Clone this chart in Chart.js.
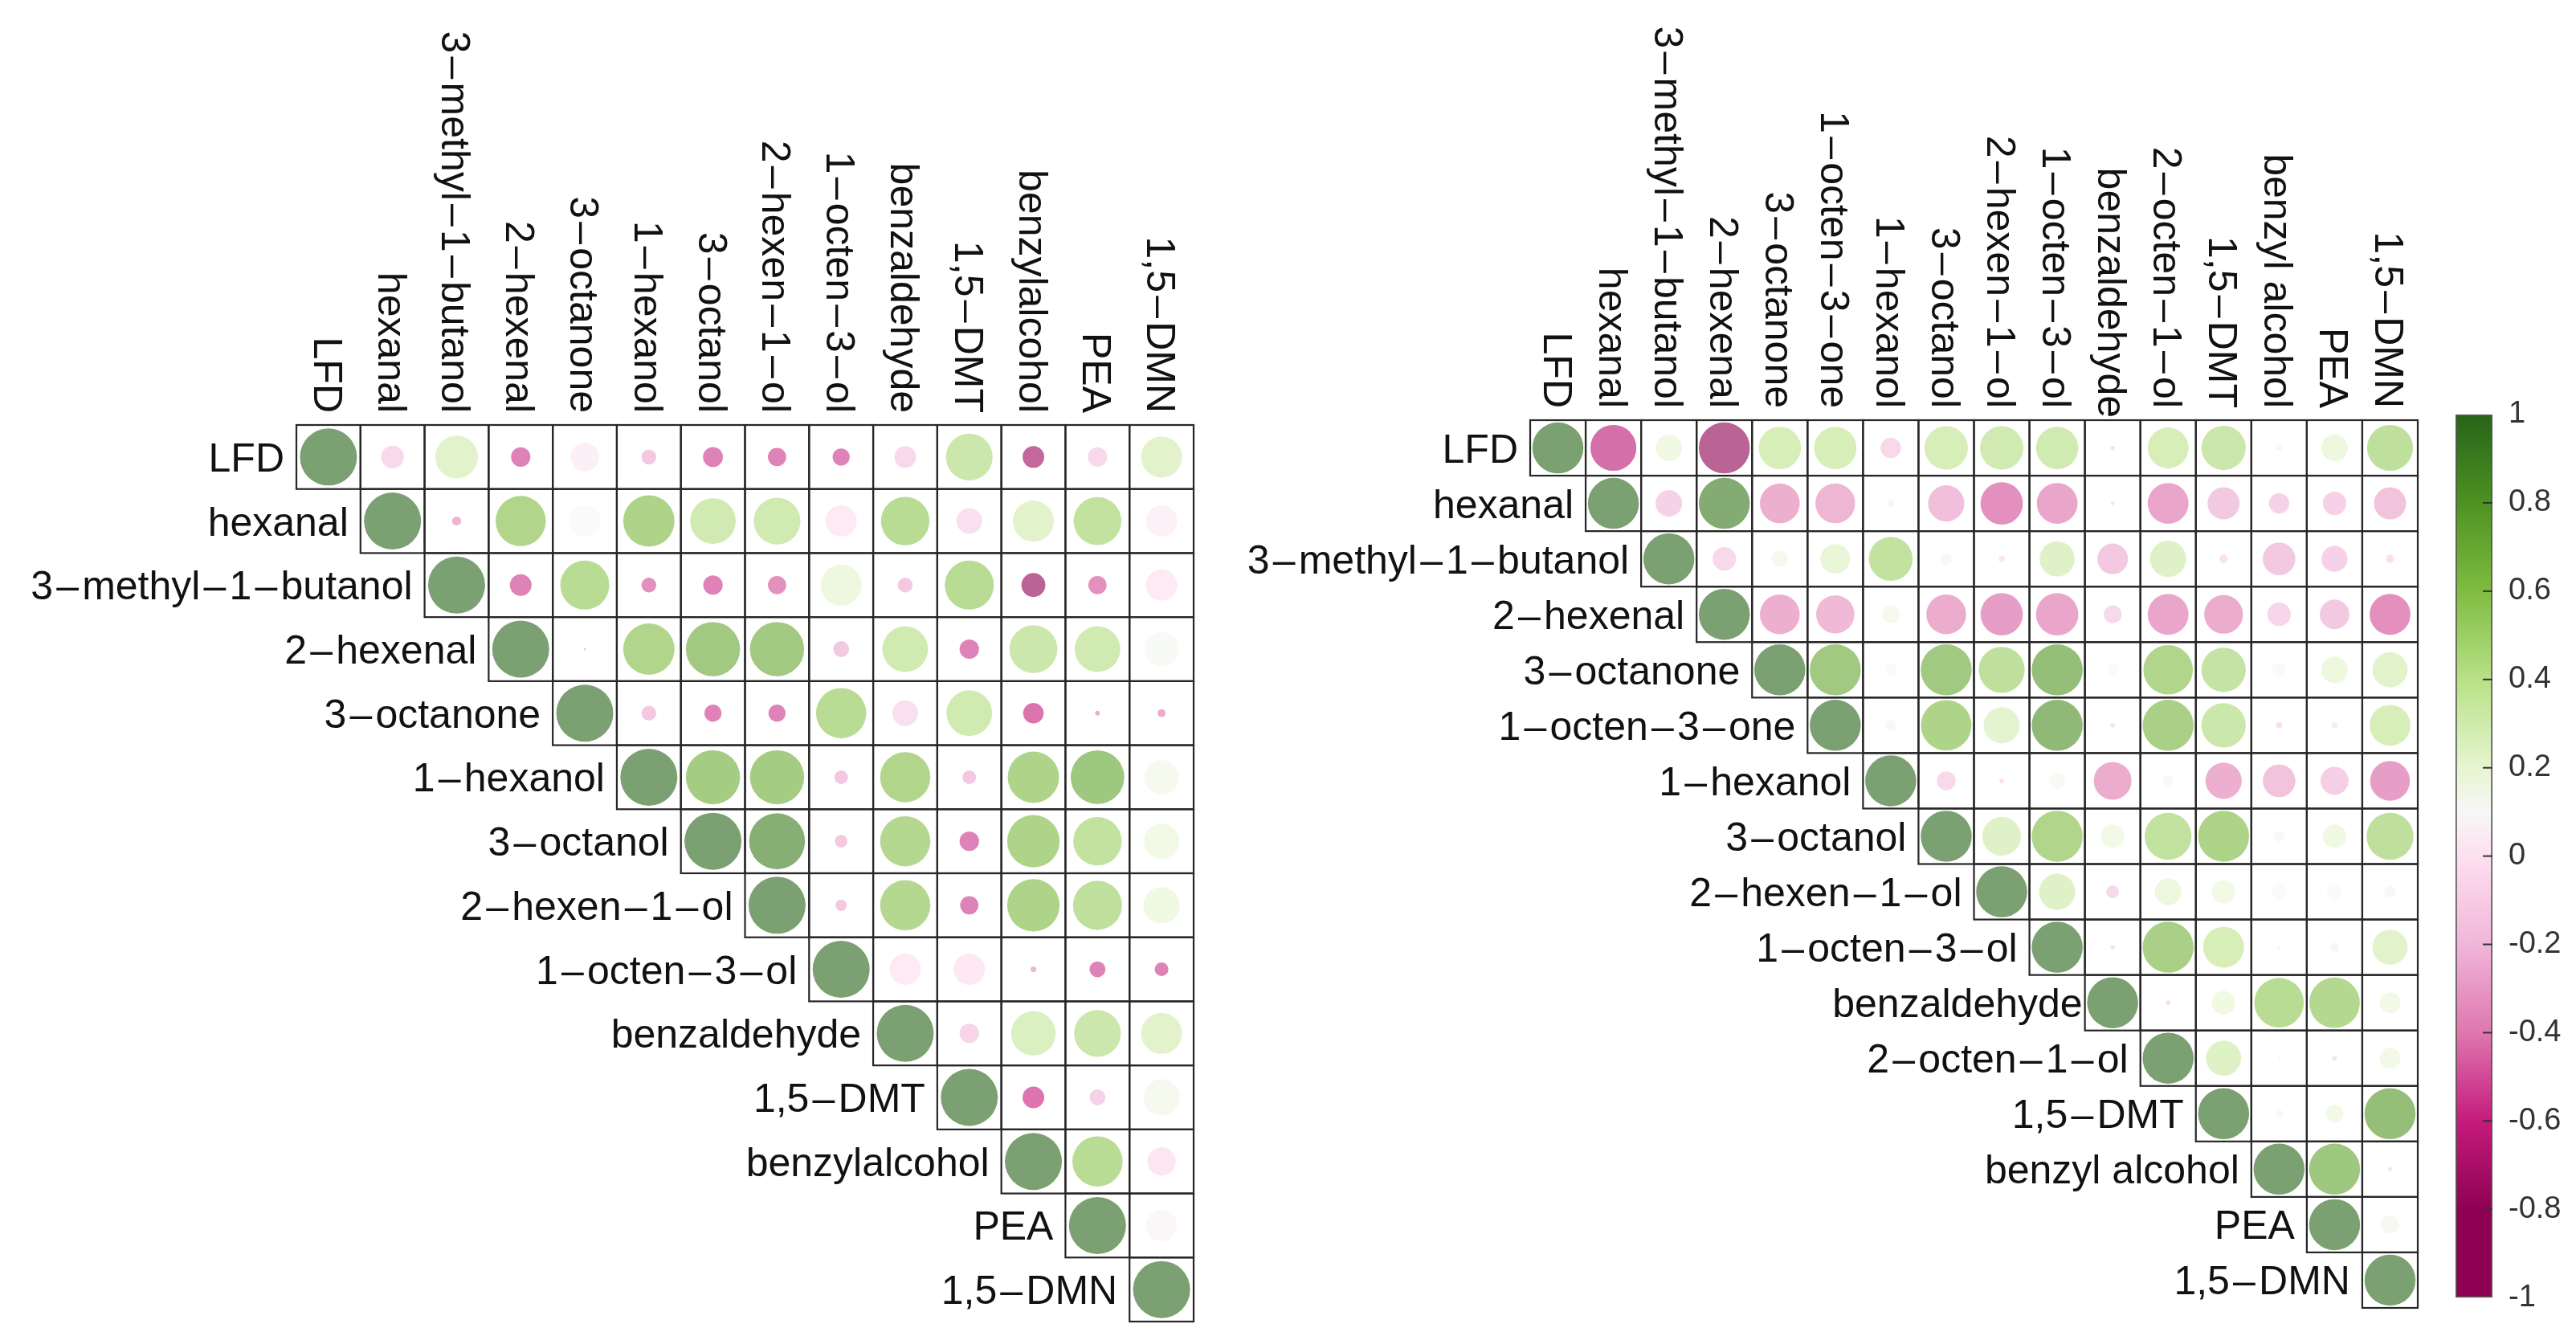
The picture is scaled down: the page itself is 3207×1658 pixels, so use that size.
<!DOCTYPE html>
<html>
<head>
<meta charset="utf-8">
<script src="https://cdn.jsdelivr.net/npm/chart.js@4.4.1/dist/chart.umd.min.js"></script>
<style>
  body { margin: 0; background: #fff; }
  #page { position: relative; width: 3207px; height: 1658px; background: #fff; }
  canvas { position: absolute; top: 0; }
</style>
</head>
<body>
<div id="page">
  <canvas id="leftChart" width="1500" height="1658" style="left:0"></canvas>
  <canvas id="rightChart" width="1525" height="1658" style="left:1500px"></canvas>
  <canvas id="barChart" width="187" height="1658" style="left:3020px"></canvas>
</div>
<script>
// variables of the left matrix
const leftVars = ["LFD", "hexanal", "3-methyl-1-butanol", "2-hexenal", "3-octanone", "1-hexanol",
  "3-octanol", "2-hexen-1-ol", "1-octen-3-ol", "benzaldehyde", "1,5-DMT", "benzylalcohol", "PEA", "1,5-DMN"];

// upper triangle, row i holds columns i..n-1 (colour value)
const leftCorr = [
  [1, -0.15, 0.3, -0.55, 0.02, -0.25, -0.55, -0.55, -0.55, -0.15, 0.45, -0.75, -0.15, 0.3],
  [1, -0.35, 0.6, 0.1, 0.62, 0.42, 0.42, -0.02, 0.55, -0.1, 0.3, 0.5, 0.03],
  [1, -0.55, 0.55, -0.5, -0.55, -0.5, 0.22, -0.25, 0.55, -0.8, -0.5, -0.02],
  [1, -0.3, 0.6, 0.7, 0.7, -0.25, 0.42, -0.55, 0.45, 0.42, 0.12],
  [1, -0.25, -0.55, -0.55, 0.55, -0.1, 0.42, -0.6, -0.4, -0.4],
  [1, 0.68, 0.68, -0.25, 0.6, -0.25, 0.62, 0.72, 0.15],
  [1, 0.9, -0.25, 0.58, -0.55, 0.62, 0.5, 0.18],
  [1, -0.25, 0.58, -0.55, 0.62, 0.52, 0.2],
  [1, -0.02, -0.03, -0.35, -0.55, -0.55],
  [1, -0.18, 0.35, 0.45, 0.3],
  [1, -0.6, -0.2, 0.15],
  [1, 0.55, -0.05],
  [1, 0.08],
  [1]
];

// circle size (share of the full circle) for the same cells
const leftSize = [
  [1, 0.40, 0.75, 0.34, 0.50, 0.26, 0.35, 0.32, 0.30, 0.38, 0.82, 0.38, 0.34, 0.72],
  [1, 0.16, 0.88, 0.55, 0.90, 0.80, 0.82, 0.55, 0.85, 0.45, 0.72, 0.84, 0.55],
  [1, 0.38, 0.86, 0.26, 0.34, 0.32, 0.72, 0.26, 0.86, 0.42, 0.32, 0.55],
  [1, 0.04, 0.90, 0.95, 0.95, 0.28, 0.80, 0.34, 0.84, 0.80, 0.60],
  [1, 0.26, 0.30, 0.30, 0.88, 0.45, 0.80, 0.36, 0.08, 0.14],
  [1, 0.95, 0.95, 0.24, 0.88, 0.24, 0.90, 0.94, 0.60],
  [1, 0.98, 0.22, 0.88, 0.34, 0.92, 0.85, 0.62],
  [1, 0.20, 0.88, 0.32, 0.92, 0.86, 0.64],
  [1, 0.55, 0.55, 0.10, 0.28, 0.24],
  [1, 0.34, 0.78, 0.82, 0.72],
  [1, 0.38, 0.28, 0.64],
  [1, 0.88, 0.50],
  [1, 0.55],
  [1]
];

// variables of the right matrix
const rightVars = ["LFD", "hexanal", "3-methyl-1-butanol", "2-hexenal", "3-octanone", "1-octen-3-one",
  "1-hexanol", "3-octanol", "2-hexen-1-ol", "1-octen-3-ol", "benzaldehyde", "2-octen-1-ol",
  "1,5-DMT", "benzyl alcohol", "PEA", "1,5-DMN"];

const rightCorr = [
  [1, -0.65, 0.2, -0.85, 0.38, 0.38, -0.15, 0.38, 0.42, 0.42, -0.1, 0.38, 0.45, 0.05, 0.22, 0.52],
  [1, -0.2, 0.92, -0.38, -0.35, 0.05, -0.3, -0.5, -0.42, -0.1, -0.42, -0.25, -0.2, -0.2, -0.28],
  [1, -0.15, 0.15, 0.25, 0.5, 0.08, -0.05, 0.32, -0.25, 0.32, -0.1, -0.25, -0.2, -0.1],
  [1, -0.38, -0.33, 0.15, -0.4, -0.45, -0.42, -0.15, -0.42, -0.4, -0.18, -0.25, -0.5],
  [1, 0.7, 0.1, 0.7, 0.52, 0.78, 0.1, 0.6, 0.48, 0.1, 0.22, 0.3],
  [1, 0.08, 0.62, 0.28, 0.82, -0.1, 0.65, 0.45, -0.1, 0.0, 0.38],
  [1, -0.15, -0.1, 0.12, -0.4, 0.08, -0.38, -0.28, -0.22, -0.45],
  [1, 0.32, 0.6, 0.18, 0.5, 0.62, 0.08, 0.2, 0.52],
  [1, 0.32, -0.15, 0.22, 0.18, 0.1, 0.1, 0.08],
  [1, -0.1, 0.65, 0.38, 0.05, 0.05, 0.3],
  [1, -0.1, 0.2, 0.55, 0.58, 0.18],
  [1, 0.32, 0.05, -0.1, 0.18],
  [1, 0.08, 0.18, 0.78],
  [1, 0.72, -0.05],
  [1, 0.15],
  [1]
];

const rightSize = [
  [1, 0.90, 0.52, 1.0, 0.83, 0.83, 0.40, 0.85, 0.85, 0.83, 0.09, 0.80, 0.87, 0.12, 0.52, 0.90],
  [1, 0.52, 1.0, 0.78, 0.78, 0.14, 0.71, 0.83, 0.80, 0.07, 0.80, 0.63, 0.40, 0.46, 0.63],
  [1, 0.46, 0.32, 0.58, 0.86, 0.23, 0.12, 0.69, 0.60, 0.71, 0.16, 0.64, 0.51, 0.16],
  [1, 0.78, 0.75, 0.35, 0.78, 0.83, 0.83, 0.35, 0.80, 0.76, 0.46, 0.58, 0.80],
  [1, 1.0, 0.23, 1.0, 0.90, 1.0, 0.23, 0.97, 0.87, 0.28, 0.52, 0.69],
  [1, 0.21, 0.99, 0.71, 1.0, 0.09, 1.0, 0.87, 0.12, 0.12, 0.80],
  [1, 0.37, 0.09, 0.32, 0.74, 0.21, 0.71, 0.64, 0.55, 0.78],
  [1, 0.76, 1.0, 0.46, 0.92, 1.0, 0.21, 0.46, 0.92],
  [1, 0.71, 0.25, 0.52, 0.46, 0.30, 0.30, 0.23],
  [1, 0.09, 1.0, 0.80, 0.07, 0.18, 0.69],
  [1, 0.09, 0.46, 0.97, 0.99, 0.41],
  [1, 0.69, 0.05, 0.09, 0.41],
  [1, 0.16, 0.35, 1.0],
  [1, 1.0, 0.09],
  [1, 0.35],
  [1]
];

// colour bar
const cbStops = [-1, -0.8, -0.6, -0.4, -0.2, 0, 0.1, 0.2, 0.4, 0.6, 0.8, 1];
const cbColors = ["#8E0152", "#8E0152", "#C51B7D", "#DE77AE", "#F1B6DA", "#FDE0EF",
  "#F7F7F7", "#E6F5D0", "#B8E186", "#7FBC41", "#4D9221", "#276419"];
const cbTicks = [1, 0.8, 0.6, 0.4, 0.2, 0, -0.2, -0.4, -0.6, -0.8, -1];

const labelFont = "50px 'Liberation Sans', Arial, sans-serif";

function hexRgb(h) {
  return [parseInt(h.slice(1, 3), 16), parseInt(h.slice(3, 5), 16), parseInt(h.slice(5, 7), 16)];
}

function colorAt(v) {
  let k = 0;
  while (k < cbStops.length - 2 && v > cbStops[k + 1]) k++;
  const t = Math.min(1, Math.max(0, (v - cbStops[k]) / (cbStops[k + 1] - cbStops[k])));
  const a = hexRgb(cbColors[k]), b = hexRgb(cbColors[k + 1]);
  return a.map((c, i) => Math.round(c + (b[i] - c) * t));
}

function circleFill(v) {
  const c = colorAt(v);
  return `rgba(${c[0]},${c[1]},${c[2]},0.61)`;
}

function niceName(s) {
  return s.replace(/-/g, "\u200A\u2013\u200A");
}

// cell borders + row / column labels
const matrixPlugin = {
  id: "matrixPlugin",
  afterDatasetsDraw(chart, args, opts) {
    const ctx = chart.ctx;
    const xs = chart.scales.x, ys = chart.scales.y;
    const vars = opts.vars;
    const nudge = opts.nudge || {};
    const n = vars.length;
    ctx.save();
    ctx.strokeStyle = "#262626";
    ctx.lineWidth = 2.2;
    for (let i = 0; i < n; i++) {
      for (let j = i; j < n; j++) {
        const x0 = xs.getPixelForValue(j - 0.5), x1 = xs.getPixelForValue(j + 0.5);
        const y0 = ys.getPixelForValue(i - 0.5), y1 = ys.getPixelForValue(i + 0.5);
        ctx.strokeRect(x0, y0, x1 - x0, y1 - y0);
      }
    }
    ctx.fillStyle = "#111";
    ctx.font = labelFont;
    // row labels, left of the diagonal cell
    ctx.textAlign = "right";
    ctx.textBaseline = "alphabetic";
    vars.forEach((name, i) => {
      const x = xs.getPixelForValue(i - 0.5) - 15 + (nudge[i] || 0);
      const y = ys.getPixelForValue(i) + 18;
      ctx.fillText(niceName(name), x, y);
    });
    // column labels, rotated above the grid
    const top = chart.chartArea.top;
    vars.forEach((name, j) => {
      ctx.save();
      ctx.translate(xs.getPixelForValue(j), top - 15 + (nudge[j] || 0));
      ctx.rotate(Math.PI / 2);
      ctx.textAlign = "right";
      ctx.fillText(niceName(name), 0, 18);
      ctx.restore();
    });
    ctx.restore();
  }
};

function makeMatrix(id, vars, corr, size, pad, fillShare, nudge) {
  const n = vars.length;
  const points = [];
  corr.forEach((row, i) => row.forEach((v, k) => {
    points.push({ x: i + k, y: i, v: v, s: size[i][k] });
  }));
  const chart = new Chart(document.getElementById(id), {
    type: "bubble",
    data: {
      datasets: [{
        data: points,
        backgroundColor: c => (c.raw ? circleFill(c.raw.v) : "rgba(0,0,0,0)"),
        borderWidth: 0,
        hoverRadius: 0
      }]
    },
    options: {
      responsive: false,
      animation: false,
      devicePixelRatio: 1,
      events: [],
      layout: { padding: pad, autoPadding: false },
      plugins: {
        legend: { display: false },
        tooltip: { enabled: false },
        matrixPlugin: { vars: vars, nudge: nudge }
      },
      scales: {
        x: { type: "linear", min: -0.5, max: n - 0.5, display: false },
        y: { type: "linear", min: -0.5, max: n - 0.5, reverse: true, display: false }
      }
    },
    plugins: [matrixPlugin]
  });
  // circle radius in pixels comes from the x scale's cell width
  const xs = chart.scales.x;
  const cw = xs.getPixelForValue(1) - xs.getPixelForValue(0);
  chart.data.datasets[0].data = points.map(p => Object.assign({}, p, { r: p.s * fillShare * cw / 2 }));
  chart.update();
  return chart;
}

makeMatrix("leftChart", leftVars, leftCorr, leftSize,
  { left: 369, top: 529, right: 14, bottom: 13 }, 0.89, {});
makeMatrix("rightChart", rightVars, rightCorr, rightSize,
  { left: 405, top: 523, right: 15, bottom: 30 }, 0.92, { 10: 12 });

// little tick marks inside the colour bar
const barTicks = {
  id: "barTicks",
  afterDatasetsDraw(chart) {
    const ctx = chart.ctx, ys = chart.scales.y, a = chart.chartArea;
    ctx.save();
    ctx.strokeStyle = "#333";
    ctx.lineWidth = 2;
    cbTicks.forEach(v => {
      if (Math.abs(v) === 1) return;
      const y = ys.getPixelForValue(v);
      ctx.beginPath();
      ctx.moveTo(a.right - 12, y);
      ctx.lineTo(a.right, y);
      ctx.stroke();
    });
    ctx.restore();
  }
};

new Chart(document.getElementById("barChart"), {
  type: "bar",
  data: {
    labels: [""],
    datasets: [{
      data: [[-1, 1]],
      barPercentage: 1,
      categoryPercentage: 1,
      borderWidth: 2,
      borderColor: "#555",
      borderSkipped: false,
      backgroundColor: c => {
        const chart = c.chart;
        if (!chart.chartArea) return "#ccc";
        const ys = chart.scales.y;
        const g = chart.ctx.createLinearGradient(0, ys.getPixelForValue(-1), 0, ys.getPixelForValue(1));
        cbStops.forEach((v, k) => g.addColorStop((v + 1) / 2, cbColors[k]));
        return g;
      }
    }]
  },
  options: {
    responsive: false,
    animation: false,
    devicePixelRatio: 1,
    events: [],
    layout: { padding: { left: 37, top: 516, right: 0, bottom: 32 } },
    plugins: { legend: { display: false }, tooltip: { enabled: false } },
    scales: {
      x: { type: "category", display: false },
      y: {
        position: "right",
        min: -1,
        max: 1,
        afterBuildTicks: s => { s.ticks = cbTicks.map(v => ({ value: v })); },
        afterFit: s => { s.width = 104; },
        grid: { display: false, drawTicks: false },
        border: { display: false },
        ticks: {
          autoSkip: false,
          padding: 20,
          color: "#333",
          font: { family: "'Liberation Sans', Arial, sans-serif", size: 38 },
          callback: v => String(Math.round(v * 10) / 10)
        }
      }
    }
  },
  plugins: [barTicks]
});
</script>
</body>
</html>
